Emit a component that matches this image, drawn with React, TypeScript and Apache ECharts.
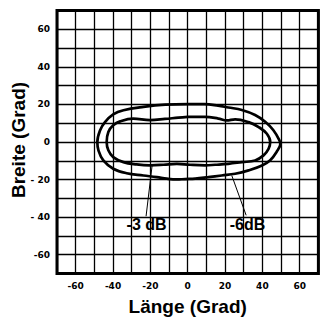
import React, { useEffect, useRef } from "react";
import * as echarts from "echarts";

// Axis ticks
const xTicks = [-60, -40, -20, 0, 20, 40, 60];
const xTickText = ["-60", "-40", "-20", "0", "20", "40", "60"];
const yTicks = [-60, -40, -20, 0, 20, 40, 60];
const yTickText = ["-60", "- 40", "- 20", "0", "20", "40", "60"];

// -6 dB contour (Länge, Breite), closed loop
const contour6dB: [number, number][] = [
  [0, 20.2], [9, 20.2], [16.3, 19.4], [21.8, 18.4], [29, 17.1], [36.1, 14.4],
  [41.5, 10.8], [45.9, 6.3], [49, 1.2], [49.6, -1], [47.6, -5.3], [44.2, -9.7],
  [39.8, -12.5], [32.6, -15.1], [25.4, -16.9], [18.2, -17.8], [11, -18.7],
  [4, -19.5], [-1.4, -19.7], [-5.8, -19.9], [-11.2, -19.5], [-16.5, -18.7],
  [-23.7, -17.8], [-32.7, -16.6], [-39.9, -14.2], [-45.2, -9.8], [-47.8, -4.4],
  [-48.4, 0], [-46.9, 6.3], [-44.3, 10.6], [-39.9, 14.7], [-34.4, 16.9],
  [-23.7, 18.7], [-12, 19.9], [0, 20.2],
];

// -3 dB contour, closed loop
const contour3dB: [number, number][] = [
  [0, 13.4], [9.3, 13.4], [16.4, 12.5], [20.9, 11.5], [25.4, 12.1], [32.6, 10.6],
  [38, 8], [42.4, 4.4], [44.2, 0], [43.3, -3.6], [40.6, -7.1], [36.1, -9.8],
  [29, -10.7], [21.8, -11.6], [14.7, -12.1], [9.3, -12.4], [1.2, -12.1],
  [-5.8, -11.6], [-13, -12.1], [-20.2, -12.4], [-27.4, -11.9], [-34.4, -10.7],
  [-39.9, -8], [-42.5, -4.4], [-43.4, 0], [-42.5, 5.4], [-39.9, 8.9],
  [-36.2, 11], [-29.2, 12.5], [-20.2, 11.7], [-12.2, 12.3], [-5, 13], [0, 13.4],
];

// Annotations
const annotationNames = ["-3 dB", "-6dB"];
const annotationPos: [number, number][] = [[-22, -43.9], [32, -43.9]];
const leader3dB: [number, number][] = [[-22.3, -39.5], [-19, -12]];
const leader6dB: [number, number][] = [[31.3, -39], [23.6, -17.8]];

export default function App() {
  const ref = useRef<HTMLDivElement>(null);
  useEffect(() => {
    if (!ref.current) return;
    const chart = echarts.init(ref.current, null, { renderer: "svg" });
    const tickFont = {
      fontFamily: "DejaVu Sans",
      fontWeight: "bold" as const,
      fontSize: 9,
      color: "#000",
    };
    const contourStyle = { color: "#000", width: 2.7 };
    chart.setOption({
      animation: false,
      backgroundColor: "#fff",
      grid: {
        left: 57,
        right: 13.6,
        top: 10.6,
        bottom: 54.5,
        show: true,
        borderColor: "#000",
        borderWidth: 3,
        backgroundColor: "#fff",
      },
      xAxis: {
        type: "value",
        min: -70,
        max: 70,
        interval: 10,
        axisLine: { show: false },
        axisTick: { show: false },
        splitLine: { show: true, lineStyle: { color: "#000", width: 1.3 } },
        axisLabel: {
          ...tickFont,
          margin: 8,
          formatter: (v: number) => {
            const i = xTicks.indexOf(v);
            return i >= 0 ? xTickText[i] : "";
          },
        },
      },
      yAxis: {
        type: "value",
        min: -70,
        max: 70,
        interval: 10,
        axisLine: { show: false },
        axisTick: { show: false },
        splitLine: { show: true, lineStyle: { color: "#000", width: 1.3 } },
        axisLabel: {
          ...tickFont,
          margin: 7,
          formatter: (v: number) => {
            const i = yTicks.indexOf(v);
            return i >= 0 ? yTickText[i] : "";
          },
        },
      },
      graphic: [
        {
          type: "text",
          x: 18.3,
          y: 140,
          rotation: Math.PI / 2,
          style: {
            text: "Breite (Grad)",
            font: "bold 19px 'Liberation Sans', Arial, sans-serif",
            fill: "#000",
            textAlign: "center",
            textVerticalAlign: "middle",
          },
        },
        {
          type: "text",
          x: 187.7,
          y: 306,
          style: {
            text: "Länge (Grad)",
            font: "bold 19px 'Liberation Sans', Arial, sans-serif",
            fill: "#000",
            textAlign: "center",
            textVerticalAlign: "middle",
          },
        },
      ],
      series: [
        {
          type: "line",
          data: contour6dB,
          smooth: 0.4,
          showSymbol: false,
          lineStyle: contourStyle,
          z: 3,
        },
        {
          type: "line",
          data: contour3dB,
          smooth: 0.4,
          showSymbol: false,
          lineStyle: contourStyle,
          z: 3,
        },
        {
          type: "line",
          data: leader3dB,
          showSymbol: false,
          lineStyle: { color: "#000", width: 1 },
          z: 3,
        },
        {
          type: "line",
          data: leader6dB,
          showSymbol: false,
          lineStyle: { color: "#000", width: 1 },
          z: 3,
        },
        {
          type: "scatter",
          symbolSize: 0,
          itemStyle: { color: "#000", opacity: 1 },
          data: annotationNames.map((n, i) => ({ name: n, value: annotationPos[i] })),
          label: {
            show: true,
            position: "inside",
            formatter: "{b}",
            fontFamily: "'Liberation Sans', Arial, sans-serif",
            fontWeight: "bold",
            fontSize: 16,
            color: "#000",
            opacity: 1,
            textBorderWidth: 0,
            textBorderColor: "transparent",
          },
          z: 4,
        },
      ],
    });
    return () => chart.dispose();
  }, []);
  return (
    <div
      ref={ref}
      style={{ position: "fixed", left: 0, top: 0, width: 332, height: 328 }}
    />
  );
}
